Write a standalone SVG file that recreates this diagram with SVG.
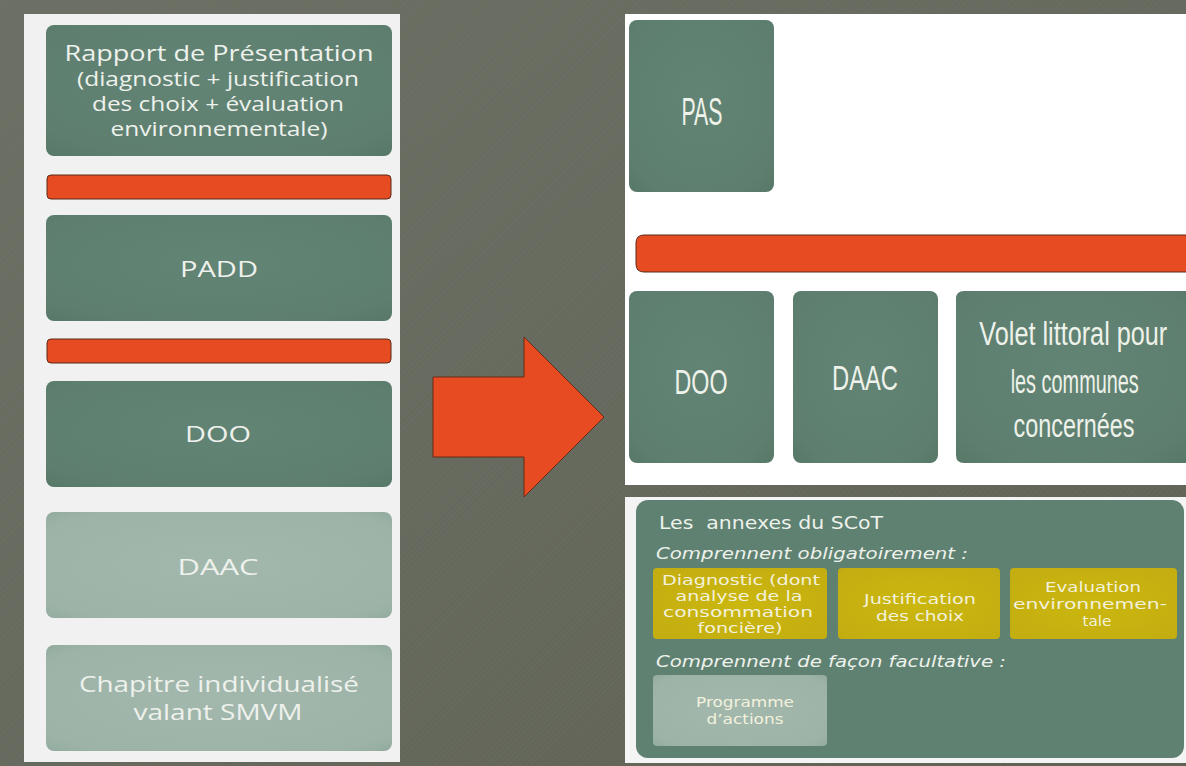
<svg xmlns="http://www.w3.org/2000/svg" width="1186" height="766" viewBox="0 0 1186 766">
<defs>
<linearGradient id="bg" x1="0" y1="0" x2="1" y2="1">
<stop offset="0" stop-color="#6c6f64"/>
<stop offset="0.5" stop-color="#66695d"/>
<stop offset="1" stop-color="#5f6155"/>
</linearGradient>
<pattern id="hatch" width="4" height="4" patternUnits="userSpaceOnUse" patternTransform="rotate(45)">
<line x1="0" y1="0" x2="0" y2="4" stroke="#7a7d70" stroke-width="1" opacity="0.35"/>
</pattern>
<radialGradient id="dk" cx="0.5" cy="0.45" r="0.75">
<stop offset="0" stop-color="#628474"/>
<stop offset="0.8" stop-color="#5e7f6f"/>
<stop offset="1" stop-color="#577767"/>
</radialGradient>
<radialGradient id="lt" cx="0.5" cy="0.5" r="0.75">
<stop offset="0" stop-color="#a2b8ad"/>
<stop offset="0.8" stop-color="#9db3a8"/>
<stop offset="1" stop-color="#8ea79b"/>
</radialGradient>
<radialGradient id="yl" cx="0.5" cy="0.5" r="0.75">
<stop offset="0" stop-color="#cbb70e"/>
<stop offset="1" stop-color="#c2ac12"/>
</radialGradient>
</defs>
<style>
.dk{fill:url(#dk)}
.lt{fill:url(#lt)}
.yl{fill:url(#yl)}
.bar{fill:#e64b21;stroke:#5b2a18;stroke-width:1}
.gs{font-family:"Open Sans","DejaVu Sans",sans-serif;fill:#eef1ec;text-anchor:middle}
.cn{font-family:"Liberation Sans",Arial,sans-serif;fill:#eef2ea;text-anchor:middle}
.vd{font-family:"DejaVu Sans",Verdana,sans-serif;fill:#eef1ec}
.yt{font-family:"DejaVu Sans",Verdana,sans-serif;fill:#f3f1dc;text-anchor:middle;font-size:13.5px}
.it{font-style:italic}
</style>

<g id="background">
<rect x="0" y="0" width="1186" height="766" fill="url(#bg)"/>
<rect x="0" y="0" width="1186" height="766" fill="url(#hatch)"/>
<rect x="24" y="14" width="376" height="748" fill="#f1f1f1"/>
<rect x="625" y="14" width="561" height="471" fill="#ffffff"/>
<rect x="625" y="497" width="561" height="266" fill="#f4f4f4"/>
</g>

<g id="rapport">
<rect class="dk" x="46" y="25" width="346" height="131" rx="8"/>
<text class="gs" font-size="21" x="219" y="61" textLength="309" lengthAdjust="spacingAndGlyphs">Rapport de Présentation</text>
<text class="gs" font-size="20" x="218" y="86" textLength="282" lengthAdjust="spacingAndGlyphs">(diagnostic + justification</text>
<text class="gs" font-size="20" x="218" y="111" textLength="252" lengthAdjust="spacingAndGlyphs">des choix + évaluation</text>
<text class="gs" font-size="20" x="219" y="136" textLength="217" lengthAdjust="spacingAndGlyphs">environnementale)</text>
</g>
<g id="bar-left-1"><rect class="bar" x="47" y="175" width="344" height="24" rx="4"/></g>
<g id="padd">
<rect class="dk" x="46" y="215" width="346" height="106" rx="8"/>
<text class="gs" font-size="21" x="219" y="277" textLength="78" lengthAdjust="spacingAndGlyphs">PADD</text>
</g>
<g id="bar-left-2"><rect class="bar" x="47" y="339" width="344" height="24" rx="4"/></g>
<g id="doo-left">
<rect class="dk" x="46" y="381" width="346" height="106" rx="8"/>
<text class="gs" font-size="21" x="218" y="442" textLength="66" lengthAdjust="spacingAndGlyphs">DOO</text>
</g>
<g id="daac-left">
<rect class="lt" x="46" y="512" width="346" height="106" rx="8"/>
<text class="gs" font-size="21" x="218" y="575" textLength="81" lengthAdjust="spacingAndGlyphs">DAAC</text>
</g>
<g id="chapitre">
<rect class="lt" x="46" y="645" width="346" height="106" rx="8"/>
<text class="gs" font-size="21" x="219" y="692" textLength="280" lengthAdjust="spacingAndGlyphs">Chapitre individualisé</text>
<text class="gs" font-size="21" x="218" y="720" textLength="169" lengthAdjust="spacingAndGlyphs">valant SMVM</text>
</g>

<g id="connectors">
<polygon points="433,377 524,377 524,337 604,417 524,497 524,457 433,457" fill="#e64b21" stroke="#6a2a14" stroke-width="1"/>
</g>

<g id="pas">
<rect class="dk" x="629" y="20" width="145" height="172" rx="8"/>
<text class="cn" font-size="38" x="702" y="125" textLength="41" lengthAdjust="spacingAndGlyphs">PAS</text>
</g>
<g id="bar-right"><path class="bar" d="M1186,235 H644 Q636,235 636,243 V264 Q636,272 644,272 H1186"/></g>
<g id="doo-right">
<rect class="dk" x="629" y="291" width="145" height="172" rx="8"/>
<text class="cn" font-size="35" x="701" y="394" textLength="53" lengthAdjust="spacingAndGlyphs">DOO</text>
</g>
<g id="daac-right">
<rect class="dk" x="793" y="291" width="145" height="172" rx="8"/>
<text class="cn" font-size="35" x="865" y="390" textLength="66" lengthAdjust="spacingAndGlyphs">DAAC</text>
</g>
<g id="volet">
<path class="dk" d="M1186,291 H964 Q956,291 956,299 V455 Q956,463 964,463 H1186 Z"/>
<g transform="translate(1074,0) scale(0.72,1)">
<text class="cn" font-size="34" x="-1" y="345" textLength="261" lengthAdjust="spacingAndGlyphs">Volet littoral pour</text>
<text class="cn" font-size="34" x="1" y="393" textLength="178" lengthAdjust="spacingAndGlyphs">les communes</text>
<text class="cn" font-size="34" x="0" y="437" textLength="168" lengthAdjust="spacingAndGlyphs">concernées</text>
</g>
</g>

<g id="annexes">
<rect x="636" y="500" width="548" height="258" rx="12" fill="#5f8171"/>
<text class="vd" font-size="17" x="659" y="529" textLength="224" lengthAdjust="spacingAndGlyphs" xml:space="preserve">Les  annexes du SCoT</text>
<text class="vd it" font-size="16" x="656" y="559" textLength="312" lengthAdjust="spacingAndGlyphs">Comprennent obligatoirement :</text>
<text class="vd it" font-size="16" x="656" y="667" textLength="350" lengthAdjust="spacingAndGlyphs">Comprennent de façon facultative :</text>
</g>
<g id="diagnostic">
<rect class="yl" x="653" y="568" width="174" height="71" rx="4"/>
<text class="yt" x="741" y="585" textLength="158" lengthAdjust="spacingAndGlyphs">Diagnostic (dont</text>
<text class="yt" x="739" y="601" textLength="127" lengthAdjust="spacingAndGlyphs">analyse de la</text>
<text class="yt" x="738" y="617" textLength="150" lengthAdjust="spacingAndGlyphs">consommation</text>
<text class="yt" x="740" y="633" textLength="85" lengthAdjust="spacingAndGlyphs">foncière)</text>
</g>
<g id="justification">
<rect class="yl" x="838" y="568" width="162" height="71" rx="4"/>
<text class="yt" x="920" y="604" textLength="112" lengthAdjust="spacingAndGlyphs">Justification</text>
<text class="yt" x="920" y="621" textLength="88" lengthAdjust="spacingAndGlyphs">des choix</text>
</g>
<g id="evaluation">
<rect class="yl" x="1010" y="568" width="167" height="71" rx="4"/>
<text class="yt" x="1093" y="592" textLength="96" lengthAdjust="spacingAndGlyphs">Evaluation</text>
<text class="yt" x="1090" y="609" textLength="154" lengthAdjust="spacingAndGlyphs">environnemen-</text>
<text class="yt" x="1097" y="626" textLength="29" lengthAdjust="spacingAndGlyphs">tale</text>
</g>
<g id="programme">
<rect class="lt" x="653" y="675" width="174" height="71" rx="4"/>
<text class="yt" fill="#eef2ee" x="745" y="707" textLength="98" lengthAdjust="spacingAndGlyphs">Programme</text>
<text class="yt" fill="#eef2ee" x="745" y="724" textLength="77" lengthAdjust="spacingAndGlyphs">d’actions</text>
</g>
</svg>
